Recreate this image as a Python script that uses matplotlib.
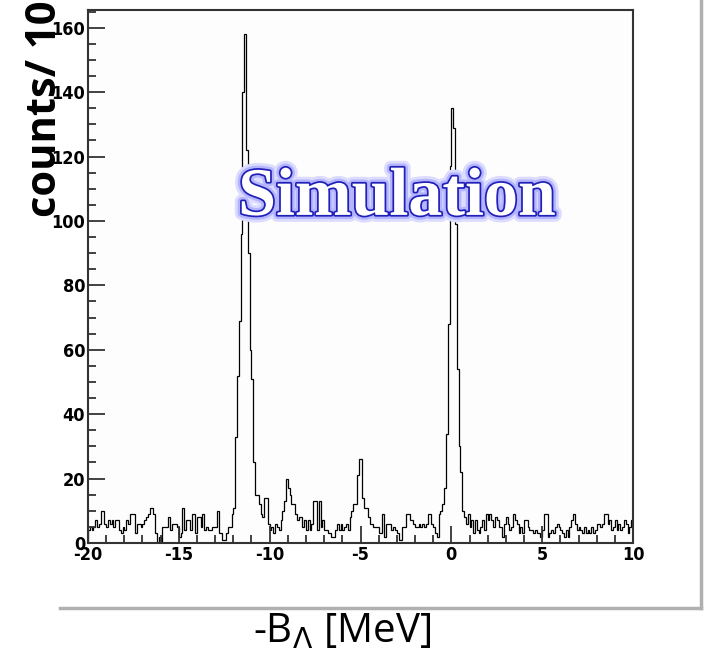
import numpy as np
import matplotlib
matplotlib.use("Agg")
import matplotlib.pyplot as plt
import matplotlib.patheffects as pe
from matplotlib.lines import Line2D
from matplotlib.ticker import MultipleLocator

# histogram range and binning (100 keV bins)
x_lo, x_hi, n_bins = -20.0, 10.0, 300

# counts per bin (10 bins per row)
counts = [
    4, 5, 4, 5, 7, 5, 6, 10, 10, 6,
    5, 7, 6, 7, 5, 7, 7, 4, 3, 5,
    4, 7, 6, 9, 9, 9, 3, 6, 6, 5,
    6, 7, 8, 9, 11, 11, 9, 3, 0, 2,
    0, 5, 5, 5, 8, 4, 6, 6, 6, 5,
    2, 3, 11, 4, 7, 7, 4, 9, 9, 3,
    8, 8, 5, 9, 4, 5, 4, 4, 5, 5,
    5, 10, 3, 3, 1, 1, 3, 5, 5, 9,
    11, 33, 52, 69, 96, 140, 158, 122, 90, 60,
    51, 25, 15, 15, 12, 9, 8, 14, 14, 6,
    4, 5, 3, 6, 5, 4, 7, 10, 13, 20,
    17, 15, 12, 12, 9, 7, 8, 8, 5, 7,
    4, 7, 4, 6, 13, 13, 4, 13, 5, 7,
    4, 4, 3, 3, 2, 2, 4, 6, 4, 6,
    4, 5, 6, 4, 8, 10, 12, 12, 21, 26,
    26, 14, 11, 11, 8, 6, 6, 5, 5, 5,
    3, 3, 9, 2, 6, 6, 6, 4, 5, 4,
    3, 1, 1, 5, 5, 9, 9, 7, 7, 6,
    5, 5, 6, 5, 6, 5, 6, 9, 9, 6,
    5, 3, 2, 9, 10, 12, 17, 34, 68, 117,
    135, 129, 99, 54, 30, 22, 10, 8, 6, 9,
    5, 7, 3, 7, 4, 3, 5, 7, 4, 9,
    7, 9, 7, 5, 8, 7, 5, 5, 2, 6,
    8, 6, 4, 5, 9, 7, 6, 3, 5, 3,
    7, 7, 5, 4, 4, 3, 4, 3, 3, 2,
    4, 9, 9, 2, 3, 4, 3, 5, 6, 5,
    4, 3, 2, 4, 2, 5, 7, 9, 6, 4,
    5, 4, 3, 5, 3, 4, 3, 5, 3, 4,
    6, 6, 5, 6, 9, 9, 6, 7, 4, 5,
    7, 4, 6, 4, 5, 7, 6, 3, 5, 7,
]

x_ticks = [-20, -15, -10, -5, 0, 5, 10]
x_ticklabels = ["-20", "-15", "-10", "-5", "0", "5", "10"]
y_ticks = [0, 20, 40, 60, 80, 100, 120, 140, 160]

edges = np.linspace(x_lo, x_hi, n_bins + 1)

W, H = 704, 653
fig = plt.figure(figsize=(W / 100, H / 100), dpi=100)
fig.patch.set_facecolor("white")

ax = fig.add_axes([88 / W, 1 - 543 / H, 545 / W, 533 / H])
ax.set_facecolor("#fdfdfd")
ax.stairs(counts, edges, color="black", lw=0.9)

ax.set_xlim(x_lo, x_hi)
ax.set_ylim(0, 165.5)

for s in ax.spines.values():
    s.set_color("#333333")
    s.set_linewidth(1.5)

# narrow bold digits like the ROOT labels
tick_font = dict(family="DejaVu Sans", stretch="condensed", weight="bold", size=13)
ax.set_xticks(x_ticks)
ax.set_xticklabels(x_ticklabels, **tick_font)
ax.set_yticks(y_ticks)
ax.set_yticklabels([str(v) for v in y_ticks], **tick_font)
ax.xaxis.set_minor_locator(MultipleLocator(1))
ax.yaxis.set_minor_locator(MultipleLocator(5))
ax.tick_params(which="both", direction="in", colors="#333333", width=1.3)
ax.tick_params(which="major", length=12)
ax.tick_params(which="minor", length=6)
ax.tick_params(axis="x", which="major", pad=2, labelcolor="black")
ax.tick_params(axis="y", which="major", pad=2, labelcolor="black")

# "Simulation" stamp: hollow serif letters with a blue outline and glow
ax.text(-3.0, 107, "Simulation", ha="center", va="center",
        family="Liberation Serif", weight="bold", size=49, color="white",
        path_effects=[pe.Stroke(linewidth=10, foreground="#dcdcff"),
                      pe.Stroke(linewidth=6, foreground="#b4b4ff"),
                      pe.Stroke(linewidth=2.5, foreground="#2020b8"),
                      pe.Normal()])

# gray frame of the pasted picture (bottom and right edges)
frame_col = "#b0b0b0"
fig.add_artist(Line2D([60 / W, 701 / W], [1 - 608 / H, 1 - 608 / H],
                      transform=fig.transFigure, color=frame_col, lw=2.5))
fig.add_artist(Line2D([701 / W, 701 / W], [1 - 608 / H, 1.0],
                      transform=fig.transFigure, color=frame_col, lw=2.5))

# axis titles
fig.text(56 / W, 1 - 217 / H, "counts/ 100 keV", rotation=90,
         rotation_mode="anchor", ha="left", va="baseline",
         family="Open Sans", weight="bold", size=30)
fig.text(342 / W, 1 - 632 / H, r"-B$_{\Lambda}$ [MeV]", ha="center", va="center",
         family="Open Sans", size=29)

fig.savefig("out.png", dpi=100)
